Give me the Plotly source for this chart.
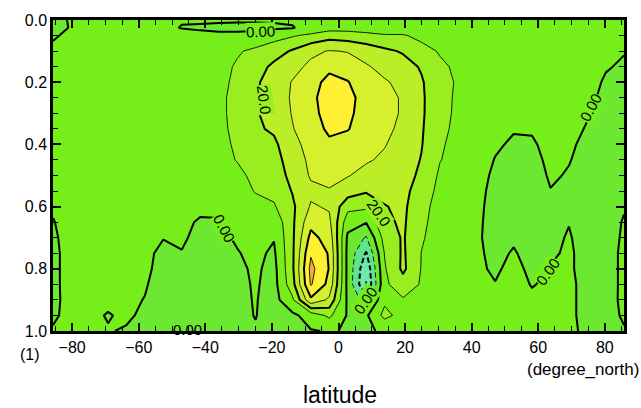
import numpy as np
import plotly.graph_objects as go

# Gaussian latitudes (T21 grid) and sigma levels
lat = [-85.76, -80.27, -74.74, -69.21, -63.68, -58.14, -52.61, -47.07, -41.54, -36.00,
       -30.47, -24.93, -19.39, -13.86, -8.31, -2.77, 2.77, 8.31, 13.86, 19.39,
       24.93, 30.47, 36.00, 41.54, 47.07, 52.61, 58.14, 63.68, 69.21, 74.74, 80.27, 85.76]
sigma = [0.0, 0.025, 0.05, 0.1, 0.15, 0.2, 0.25, 0.3, 0.35, 0.4, 0.45, 0.5,
         0.55, 0.6, 0.65, 0.7, 0.75, 0.8, 0.85, 0.9, 0.95, 1.0]

# vertical profiles of the field, one list per latitude (top -> bottom)
profiles = [
    [-1, -1, -0.8, 1.5, 2.5, 3, 3, 3, 3, 3, 2.5, 2, 1.5, 0.8, -0.3, -1, -1.5, -1.5, -1.2, -1, -0.5, 0.3],
    [0.3, 0.2, 1.5, 3, 4, 4.5, 4.5, 4.5, 4.5, 4.5, 4, 3.5, 3, 2.5, 2.5, 2.5, 2.5, 2.5, 2, 1.5, 1, 0.3],
    [0.3, 1, 2, 3.5, 4.5, 5, 5, 5, 5, 5, 4.5, 4, 3.5, 3, 3, 3, 3, 3, 2.5, 2, 1, 0.3],
    [0.3, 1, 2, 4, 5, 5.5, 5.5, 5.5, 5.5, 5, 5, 4.5, 4, 3.5, 3, 3, 3, 2.5, 2, 1, -0.3, 0.3],
    [0.3, 1, 2, 4, 5, 5.5, 5.5, 5.5, 5.5, 5, 5, 4.5, 4, 3.5, 3, 3, 3, 2.5, 2, 1.2, 0.8, -0.5],
    [0.3, 1, 2, 4, 5, 5.5, 5.5, 5.5, 5, 5, 4.5, 4, 3.5, 3, 2.5, 2, 1.5, 1.2, 0.5, -0.2, -1, -0.8],
    [0.3, 1, 2, 4, 5, 5.5, 5.5, 5.5, 5, 5, 4.5, 4, 3, 2, 1, 0.2, -1.5, -2, -2.5, -2.5, -2, -1],
    [0.3, -0.2, 2, 4, 5, 5.5, 5.5, 5, 5, 4.5, 4, 3.5, 2.5, 1.5, 1, 1, -0.3, -2, -3, -3, -2.5, -1],
    [1, -1, 2, 4, 5, 5.5, 5.5, 5.5, 5, 4.5, 4, 3, 2, 1, -0.5, -2, -3, -3.5, -3.5, -3, -2.5, -1],
    [1, -1.5, 1.5, 5, 7, 8, 8.5, 8.5, 8.5, 8, 7.5, 6, 4, 0.8, -0.3, -2, -3, -3.5, -3.5, -3, -2.5, -1],
    [1, -2, 2, 9, 11, 11.5, 12, 12, 11.5, 11, 10.3, 8, 6, 4.5, 3, 1, -0.5, -2, -2.5, -2, -1.5, -1],
    [1, -2, 3, 12, 16, 18.5, 19, 19, 18.5, 17, 15, 12, 10.5, 7, 5, 3.5, 2, 1.5, 1, 0.5, 0.2, -0.5],
    [1, -1.5, 6, 16, 22, 24.5, 25, 24, 21.5, 18, 16, 14.5, 12.5, 9, 3, 0.5, -1.5, -3, -3.5, -3.5, -2.5, -1],
    [1, -0.5, 9, 21, 27, 30.5, 31, 30.5, 29.5, 27, 25, 23, 20.5, 18, 18, 18, 18, 18, 16, 8, -2, -0.5],
    [1, 3, 12, 28, 32, 35, 37, 36, 35, 33.5, 32, 31, 28, 31, 37, 43, 49, 53, 51, 38, 4, -0.5],
    [1, 6, 16, 30.5, 37, 44, 46, 45, 42, 38, 34, 32, 29.5, 29, 32, 36, 39, 39.5, 37, 28, 12, 0.5],
    [1, 6, 15, 29.5, 35, 40.5, 43, 42, 40.5, 36, 34, 30.5, 25, 13, 4, -2, -3, -3, -3, -2, -1, -0.5],
    [1, 5, 13, 26, 31, 34, 36, 36, 35, 33, 31, 27, 21, 12, 0.5, -11, -21, -28, -30.5, -14, -1.5, -0.3],
    [1, 4, 11, 22, 27, 31, 33, 33, 32, 30.5, 28.5, 26, 23, 19.5, 18, 14, 10.5, 9, 8, 8, 13, 0.3],
    [0.8, 3, 11, 19, 24, 27.5, 29, 29, 28, 26, 25, 24, 23, 22, 21.5, 21, 21.5, 22, 16, 9, 6, 0.3],
    [0.8, 2.5, 7, 14, 19, 21, 21.5, 21.5, 21, 20.5, 19.5, 18, 15, 13, 12, 11, 9.8, 9.5, 9, 7, 4, 0.3],
    [0.8, 2, 4, 9, 12, 13, 13, 12.5, 12, 11, 10.3, 8.5, 7.5, 6.5, 6, 5.5, 5, 5, 4.5, 3.5, 2, 0.3],
    [0.8, 1.5, 3, 6, 8, 9, 8.5, 8.5, 8, 7.5, 7, 6.5, 6, 5.5, 5, 4.5, 4, 3.5, 3, 2.5, 1.5, 0.3],
    [0.8, 1.5, 2.5, 4, 5, 5.5, 5.5, 5, 4.5, 4, 3.5, 3, 2.5, 2, 1.5, 1, 1, 1, 1.5, 2, 1.5, 0.3],
    [0.8, 1.5, 2.5, 4, 4.5, 4.5, 4, 3, 2, 1, -0.3, -1.5, -2.5, -3, -3, -2.5, -1.5, -0.8, 0.2, 1.5, 1.5, 0.3],
    [0.8, 1.5, 2.5, 4, 4.5, 4.5, 3.5, 2, 0.5, -1, -2, -3, -3.5, -3.5, -2.5, -0.8, 0.5, 1.5, 2, 2, 1.5, 0.3],
    [0.8, 1.5, 2.5, 4, 4.5, 4.5, 3.5, 2, 0.8, -1, -2, -3, -3.5, -3.5, -3, -2.5, -2, -1.2, -0.3, 1, 1.5, 0.3],
    [0.8, 1.5, 2.5, 4, 4.5, 4.5, 4, 3.5, 3, 2.5, 1.5, 0.8, -0.2, -1.5, -2, -1.5, -0.8, 0.3, 1, 1.5, 1.5, 0.3],
    [0.8, 1.5, 2.5, 3.5, 4, 4, 3.5, 3, 2, 1, 0.3, -0.5, -1.5, -1.5, -0.2, 0.5, 0.8, 0.8, 1, 1, 1, 0.3],
    [0.8, 1.5, 2.5, 3, 3, 2.5, 1.5, 0.5, -0.5, -1.5, -2, -2.5, -3, -3, -3, -2.5, -2, -2, -1.5, -1.5, -1.5, -0.3],
    [0.8, 1.5, 2, 2, 0.5, -0.8, -1.5, -2, -2.5, -2.5, -3, -3, -3, -3, -3, -2.5, -2, -2, -2, -1.5, -1.5, -0.3],
    [0.8, 1, 1, 0.3, -0.8, -1.5, -2, -2, -2, -2, -2, -2, -1.5, -0.5, 0.5, 0.8, 1, 1, 1, 0.8, 0.5, -0.3],
]

x_ticks = [-80, -60, -40, -20, 0, 20, 40, 60, 80]
y_ticks = [0.0, 0.2, 0.4, 0.6, 0.8, 1.0]

# one fill colour per band between contour levels -30 ... 50 (step 10)
band_colors = ["#7aeecb", "#6ee8ae", "#60e28e", "#6de830", "#76ee1a",
               "#98ee1e", "#bbee26", "#d6f02e", "#fff034", "#f0ac3c"]

z = np.array(profiles, dtype=float).T

n = len(band_colors)
colorscale = []
for k, c in enumerate(band_colors):
    lo = max(0.0, (k - 0.5) / (n - 1))
    hi = min(1.0, (k + 0.5) / (n - 1))
    colorscale.append([lo, c])
    colorscale.append([hi, c])

fig = go.Figure()

fig.add_trace(go.Contour(
    x=lat, y=sigma, z=z,
    contours=dict(start=-30, end=50, size=10, coloring="fill", showlines=False),
    colorscale=colorscale, showscale=False, line=dict(width=0, smoothing=0),
    hoverinfo="skip",
))


def line_layer(start, end, size, width, dash="solid"):
    return go.Contour(
        x=lat, y=sigma, z=z,
        contours=dict(start=start, end=end, size=size, coloring="none"),
        line=dict(color="black", width=width, dash=dash, smoothing=0),
        showscale=False, hoverinfo="skip",
    )


fig.add_trace(line_layer(10, 50, 20, 0.9))                 # thin solid: 10, 30, 50
fig.add_trace(line_layer(0, 40, 20, 2.0))                  # thick solid: 0, 20, 40
fig.add_trace(line_layer(-30, -10, 20, 0.9, "5px,3px"))    # thin dashed: -30, -10
fig.add_trace(line_layer(-20, -20, 20, 2.0, "5px,3px"))    # thick dashed: -20

# contour labels: (text, lat, sigma, angle, background)
labels = [
    ("0.00", -23.4, 0.038, -2, band_colors[4]),
    ("20.0", -22.3, 0.255, 82, band_colors[5]),
    ("0.00", -45.5, 0.996, 0, None),
    ("0.00", -34.4, 0.672, 62, band_colors[4]),
    ("20.0", 12.0, 0.620, 55, band_colors[5]),
    ("0.00", 8.1, 0.902, -55, band_colors[4]),
    ("0.00", 75.7, 0.281, -62, band_colors[4]),
    ("0.00", 62.9, 0.808, -55, band_colors[4]),
]
for text, lx, ly, ang, bg in labels:
    fig.add_annotation(
        x=lx, y=ly, xref="x", yref="y", text=text, showarrow=False,
        textangle=ang, font=dict(family="Liberation Sans", size=15, color="black"),
        bgcolor=bg if bg else "rgba(0,0,0,0)", borderpad=0,
    )

fig.add_annotation(x=0.5026, y=-0.205, xref="paper", yref="paper", text="latitude",
                   showarrow=False, font=dict(family="Liberation Sans", size=23, color="black"),
                   xanchor="center", yanchor="middle")
fig.add_annotation(x=1.030, y=-0.123, xref="paper", yref="paper", text="(degree_north)",
                   showarrow=False, font=dict(family="Liberation Sans", size=17, color="black"),
                   xanchor="right", yanchor="middle")
fig.add_annotation(x=-0.040, y=-0.076, xref="paper", yref="paper", text="(1)",
                   showarrow=False, font=dict(family="Liberation Sans", size=16, color="black"),
                   xanchor="center", yanchor="middle")

axis_common = dict(
    showline=True, linecolor="black", linewidth=2.5, mirror="ticks",
    ticks="inside", ticklen=8, tickwidth=1.5, tickcolor="black",
    showgrid=False, zeroline=False,
    tickfont=dict(family="Liberation Sans", size=16, color="black"),
)

fig.update_xaxes(
    range=[lat[0], lat[-1]], tickmode="array", tickvals=x_ticks,
    minor=dict(dtick=5, tick0=0, ticks="inside", ticklen=5, tickwidth=1, tickcolor="black"),
    **axis_common,
)
fig.update_yaxes(
    range=[1.0, 0.0], tickmode="array", tickvals=y_ticks, tickformat=".1f",
    minor=dict(dtick=0.05, tick0=0, ticks="inside", ticklen=5, tickwidth=1, tickcolor="black"),
    **axis_common,
)

fig.update_layout(
    width=641, height=408,
    margin=dict(l=53, r=17, t=14, b=77),
    paper_bgcolor="white", plot_bgcolor="white",
    showlegend=False,
)

fig.write_html("out.html")
